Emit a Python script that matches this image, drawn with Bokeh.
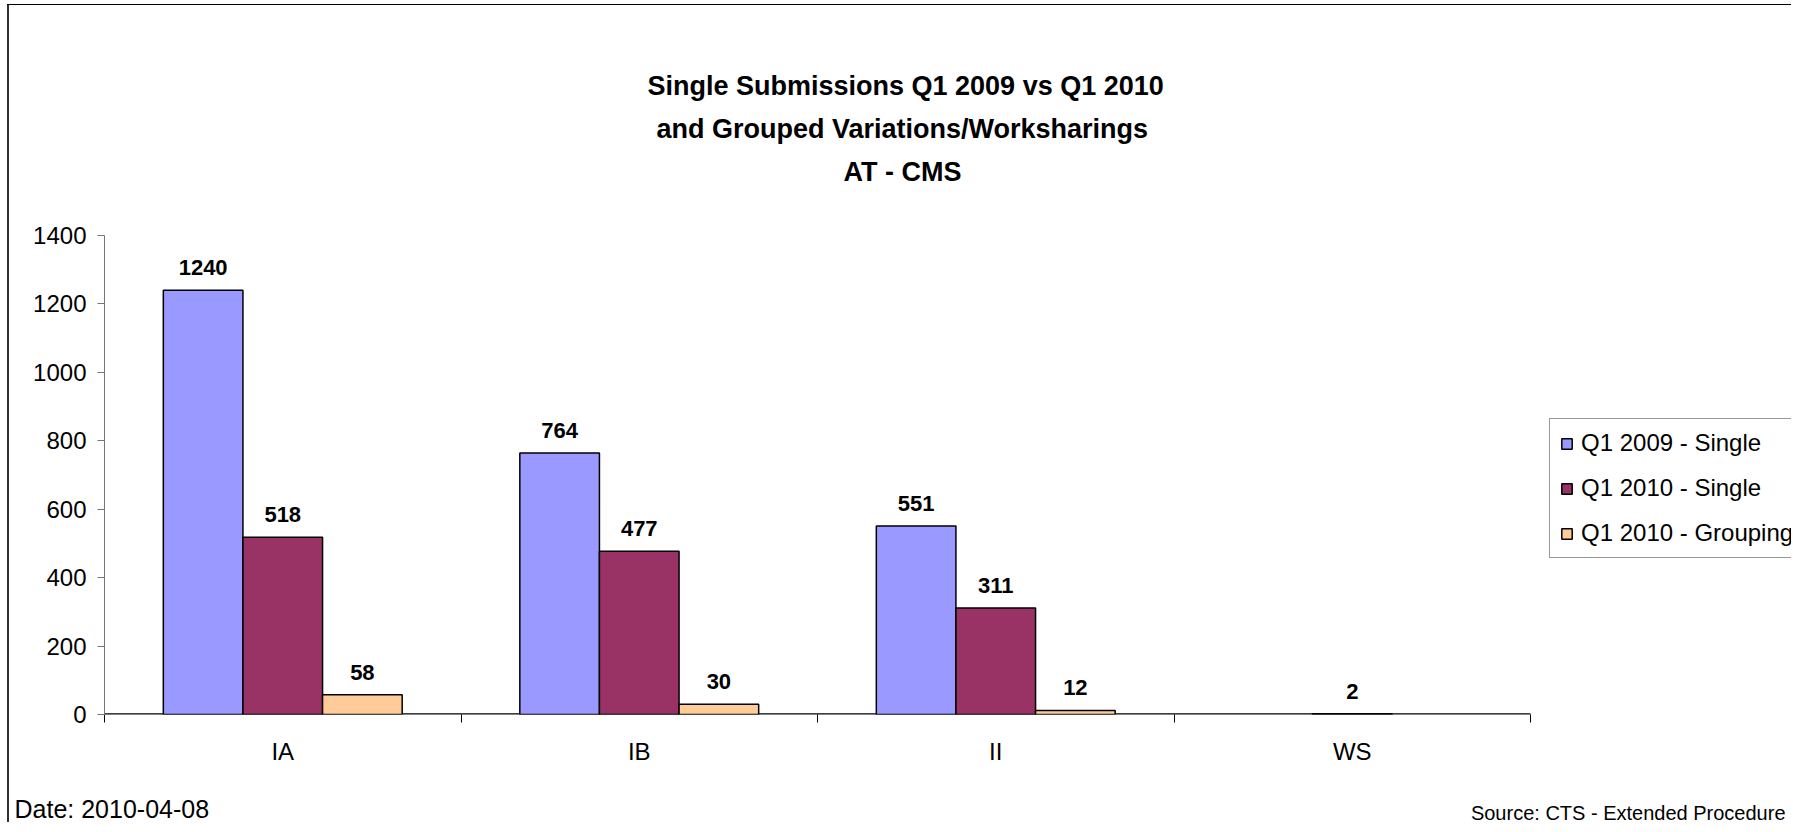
from bokeh.plotting import figure
from bokeh.models import (Range1d, FixedTicker, ColumnDataSource, LabelSet, Title,
                          Legend, LegendItem)
from bokeh.embed import file_html
from bokeh.resources import INLINE
from bokeh.core.properties import value

# ---------------- data ----------------
categories = ["IA", "IB", "II", "WS"]
series_names = ["Q1 2009 - Single", "Q1 2010 - Single", "Q1 2010 - Grouping"]
q1_2009_single = [1240, 764, 551, None]
q1_2010_single = [518, 477, 311, 2]
q1_2010_grouping = [58, 30, 12, None]
y_ticks = [0, 200, 400, 600, 800, 1000, 1200, 1400]
title_lines = ["Single Submissions Q1 2009 vs Q1 2010",
               "and Grouped Variations/Worksharings",
               "AT - CMS"]
date_text = "Date: 2010-04-08"
source_text = "Source: CTS - Extended Procedure"

# ---------------- layout ----------------
FONT = "Liberation Sans"
W, H = 1791, 822
FL, FT, FB = 104, 235, 714
CAT_PX = 356.5            # pixel width of one category slot
Y_MAX = 1400
N = len(categories)
X_END = (W - FL) / CAT_PX  # frame runs to the right edge (legend lives there)

p = figure(width=W, height=H, output_backend="svg", toolbar_location=None,
           x_range=Range1d(0, X_END), y_range=Range1d(0, Y_MAX),
           min_border_left=FL, min_border_right=0,
           min_border_top=FT, min_border_bottom=H - FB)
p.outline_line_color = None
p.xgrid.visible = False
p.ygrid.visible = False
p.background_fill_color = "white"
p.border_fill_color = None
p.styles = {
    "background": ("linear-gradient(#333333,#333333) 7px 5px / 2px 2000px no-repeat, "
                   "linear-gradient(#000000,#000000) 7px 4px / 2000px 1px no-repeat"),
}

# x axis: labels at category centers, ticks at category boundaries
xa = p.xaxis[0]
centers = [i + 0.5 for i in range(N)]
xa.ticker = FixedTicker(ticks=centers, minor_ticks=list(range(N + 1)))
xa.major_label_overrides = {c: cat for c, cat in zip(centers, categories)}
xa.major_tick_in = 0
xa.major_tick_out = 0
xa.minor_tick_in = 0
xa.minor_tick_out = 8
xa.minor_tick_line_color = "black"
xa.axis_line_color = None
xa.major_label_text_font = FONT
xa.major_label_text_font_size = "24px"
xa.major_label_text_color = "black"
xa.major_label_standoff = 15
# the category axis line only spans the categories
p.segment(x0=[0], y0=[0], x1=[N], y1=[0], line_color="black", line_width=2.5)

ya = p.yaxis[0]
ya.ticker = FixedTicker(ticks=y_ticks)
ya.major_tick_in = 0
ya.major_tick_out = 7
ya.minor_tick_in = 0
ya.minor_tick_out = 0
ya.axis_line_color = "#777777"
ya.major_tick_line_color = "#777777"
ya.major_label_text_font = FONT
ya.major_label_text_font_size = "24px"
ya.major_label_text_color = "black"
ya.major_label_standoff = 11

# bars
colors = ["#9999FF", "#993366", "#FFCC99"]
bar_w = 0.67 / 3
offsets = [-bar_w, 0.0, bar_w]
all_series = [q1_2009_single, q1_2010_single, q1_2010_grouping]
items = []
for j, (name, vals, col) in enumerate(zip(series_names, all_series, colors)):
    xs = [i + 0.5 + offsets[j] for i, v in enumerate(vals) if v is not None]
    ys = [v for v in vals if v is not None]
    src = ColumnDataSource(dict(x=xs, top=ys, label=[str(v) for v in ys]))
    r = p.vbar(x="x", top="top", bottom=0, width=bar_w, source=src,
               fill_color=col, line_color="black", line_width=1.5)
    p.add_layout(LabelSet(x="x", y="top", text="label", source=src,
                          text_align="center", text_baseline="alphabetic",
                          y_offset=15, text_font=value(FONT),
                          text_font_style="bold", text_font_size="22px",
                          text_color="black"))
    items.append(LegendItem(label=name, renderers=[r]))

legend = Legend(items=items, location=(1549 - FL, FB - 558), orientation="vertical",
                label_text_font=FONT, label_text_font_size="24px",
                label_text_color="black",
                glyph_width=13, glyph_height=13, label_standoff=8,
                padding=10, spacing=17, margin=0,
                border_line_color="#333333", border_line_width=1,
                background_fill_color="white", background_fill_alpha=1.0)
p.add_layout(legend)

# title lines, stacked upward from the frame (spacer first)
title_kw = dict(text_font=FONT, text_font_style="bold", text_font_size="27px",
                text_color="black", vertical_align="middle")
p.add_layout(Title(text=" ", standoff=10, align="left", **title_kw), "above")
title_lefts = [647, 656, 843]
for line, left in reversed(list(zip(title_lines, title_lefts))):
    p.add_layout(Title(text=line, align="left", offset=left - FL, standoff=11,
                       **title_kw), "above")

# footer texts (zero-height panels, pushed down by a negative standoff)
p.add_layout(Title(text=date_text, align="left", offset=14 - FL, standoff=-110,
                   vertical_align="bottom", text_font=FONT, text_font_style="normal",
                   text_font_size="25px", text_color="black"), "below")
p.add_layout(Title(text=source_text, align="right", offset=W - 1785, standoff=-112,
                   vertical_align="bottom", text_font=FONT, text_font_style="normal",
                   text_font_size="20px", text_color="black"), "below")

open("out.html", "w").write(file_html(p, INLINE))
